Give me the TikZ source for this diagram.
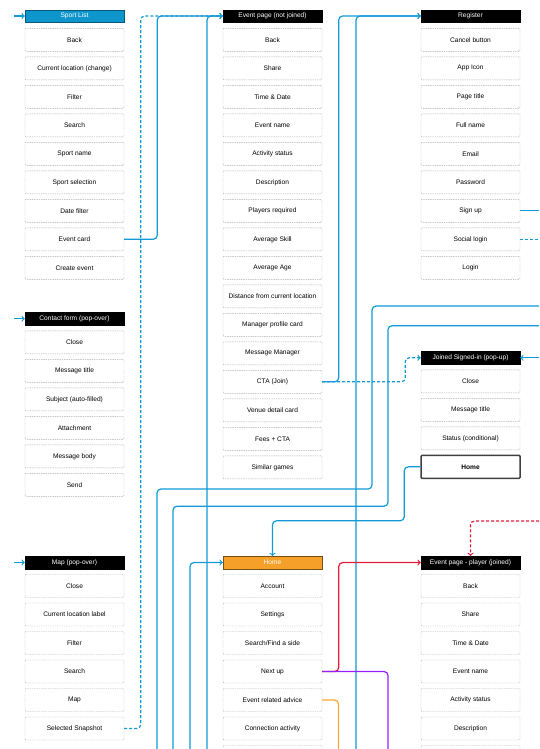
\documentclass[tikz,border=0pt]{standalone}
\usepackage{fontspec}
\setmainfont{Liberation Sans}
\usetikzlibrary{calc,positioning,arrows}
\definecolor{linkblue}{RGB}{17,154,214}
\definecolor{headblue}{RGB}{14,150,204}
\definecolor{linkred}{RGB}{228,28,58}
\definecolor{linkviolet}{RGB}{150,30,255}
\definecolor{linkorange}{RGB}{255,168,50}
\definecolor{homeorange}{RGB}{245,160,40}

\begin{document}
\begin{tikzpicture}[x=1pt,y=-1pt,
    box/.style={draw=gray!65,dash pattern=on 1.4pt off .9pt,line width=.45pt,rounded corners=1pt,fill=white,minimum width=99pt,minimum height=23pt,inner sep=0pt,font=\fontsize{6.6}{8}\selectfont},
    hdr/.style={draw=black,fill=black,text=white,minimum width=99pt,minimum height=12.5pt,inner sep=0pt,font=\fontsize{6.6}{8}\selectfont},
    link/.style={draw=linkblue,line width=1.2pt,rounded corners=4pt},
    dsh/.style={dash pattern=on 3pt off 2pt}]
                      \useasboundingbox (0,0) rectangle (539,749);
                      \clip (0,0) rectangle (539,749);

                      \node[hdr,fill=headblue,draw=headblue!60!black] (s0) at (74.5,16) {Sport List};
                      \node[box] (s1) at (74.5,39.8) {Back};
                      \node[box] (s2) at (74.5,68.3) {Current location (change)};
                      \node[box] (s3) at (74.5,96.8) {Filter};
                      \node[box] (s4) at (74.5,125.3) {Search};
                      \node[box] (s5) at (74.5,153.8) {Sport name};
                      \node[box] (s6) at (74.5,182.3) {Sport selection};
                      \node[box] (s7) at (74.5,210.8) {Date filter};
                      \node[box] (s8) at (74.5,239.3) {Event card};
                      \node[box] (s9) at (74.5,267.8) {Create event};

                      \node[hdr] (c0) at (74.5,318.7) {Contact form (pop-over)};
                      \node[box] (c1) at (74.5,342.3) {Close};
                      \node[box] (c2) at (74.5,370.8) {Message title};
                      \node[box] (c3) at (74.5,399.3) {Subject (auto-filled)};
                      \node[box] (c4) at (74.5,427.8) {Attachment};
                      \node[box] (c5) at (74.5,456.3) {Message body};
                      \node[box] (c6) at (74.5,484.8) {Send};

                      \node[hdr] (m0) at (74.5,562.5) {Map (pop-over)};
                      \node[box] (m1) at (74.5,586) {Close};
                      \node[box] (m2) at (74.5,614.5) {Current location label};
                      \node[box] (m3) at (74.5,643) {Filter};
                      \node[box] (m4) at (74.5,671.5) {Search};
                      \node[box] (m5) at (74.5,700) {Map};
                      \node[box] (m6) at (74.5,728.5) {Selected Snapshot};

                      \node[hdr] (e0) at (272.5,16) {Event page (not joined)};
                      \node[box] (e1) at (272.5,39.8) {Back};
                      \node[box] (e2) at (272.5,68.3) {Share};
                      \node[box] (e3) at (272.5,96.8) {Time \& Date};
                      \node[box] (e4) at (272.5,125.3) {Event name};
                      \node[box] (e5) at (272.5,153.8) {Activity status};
                      \node[box] (e6) at (272.5,182.3) {Description};
                      \node[box] (e7) at (272.5,210.8) {Players required};
                      \node[box] (e8) at (272.5,239.3) {Average Skill};
                      \node[box] (e9) at (272.5,267.8) {Average Age};
                      \node[box] (e10) at (272.5,296.3) {Distance from current location};
                      \node[box] (e11) at (272.5,324.8) {Manager profile card};
                      \node[box] (e12) at (272.5,353.3) {Message Manager};
                      \node[box] (e13) at (272.5,381.8) {CTA (Join)};
                      \node[box] (e14) at (272.5,410.3) {Venue detail card};
                      \node[box] (e15) at (272.5,438.8) {Fees + CTA};
                      \node[box] (e16) at (272.5,467.3) {Similar games};

                      \node[hdr,fill=homeorange,draw=homeorange!50!black] (h0) at (272.5,562.5) {Home};
                      \node[box] (h1) at (272.5,586) {Account};
                      \node[box] (h2) at (272.5,614.5) {Settings};
                      \node[box] (h3) at (272.5,643) {Search/Find a side};
                      \node[box] (h4) at (272.5,671.5) {Next up};
                      \node[box] (h5) at (272.5,700) {Event related advice};
                      \node[box] (h6) at (272.5,728.5) {Connection activity};
                      \node[box] (h7) at (272.5,757) {};

                      \node[hdr] (r0) at (470.5,16) {Register};
                      \node[box] (r1) at (470.5,39.8) {Cancel button};
                      \node[box] (r2) at (470.5,68.3) {App Icon};
                      \node[box] (r3) at (470.5,96.8) {Page title};
                      \node[box] (r4) at (470.5,125.3) {Full name};
                      \node[box] (r5) at (470.5,153.8) {Email};
                      \node[box] (r6) at (470.5,182.3) {Password};
                      \node[box] (r7) at (470.5,210.8) {Sign up};
                      \node[box] (r8) at (470.5,239.3) {Social login};
                      \node[box] (r9) at (470.5,267.8) {Login};

                      \node[hdr] (j0) at (470.5,357.8) {Joined Signed-in (pop-up)};
                      \node[box] (j1) at (470.5,381.3) {Close};
                      \node[box] (j2) at (470.5,409.8) {Message title};
                      \node[box] (j3) at (470.5,438.3) {Status (conditional)};
                      \node[box,solid,draw=black!75,line width=1.5pt,font=\fontsize{6.6}{8}\selectfont\bfseries] (j4) at (470.5,466.8) {Home};

                      \node[hdr] (p0) at (470.5,562.5) {Event page - player (joined)};
                      \node[box] (p1) at (470.5,586) {Back};
                      \node[box] (p2) at (470.5,614.5) {Share};
                      \node[box] (p3) at (470.5,643) {Time \& Date};
                      \node[box] (p4) at (470.5,671.5) {Event name};
                      \node[box] (p5) at (470.5,700) {Activity status};
                      \node[box] (p6) at (470.5,728.5) {Description};
                      \node[box] (p7) at (470.5,757) {};

                      \coordinate (in1) at (14,16);
                      \coordinate (in2) at (14,318.7);
                      \coordinate (in3) at (14,562.5);
                      \coordinate (b1) at (157,749);
                      \coordinate (b2) at (173,749);
                      \coordinate (b3) at (190,749);
                      \coordinate (b4) at (207,749);
                      \coordinate (b5) at (338.5,749);
                      \coordinate (b6) at (356,749);
                      \coordinate (b7) at (388,749);
                      \coordinate (o1) at (539,210.8);
                      \coordinate (o2) at (539,239.3);
                      \coordinate (o3) at (539,306);
                      \coordinate (o4) at (539,325.7);
                      \coordinate (o5) at (539,357.8);
                      \coordinate (o6) at (539,521);

                      \draw[link,->] (in1) -- (s0);
                      \draw[link,->] (in2) -- (c0);
                      \draw[link,->] (in3) -- (m0);
                      \draw[link,dsh,->] (m6.east) -- ++(16.5,0) |- (e0.west);
                      \draw[link,->] (s8.east) -- ++(33,0) |- (e0.west);
                      \draw[link,->] (b4) |- (e0.west);
                      \draw[link,->] (b3) |- (h0.west);
                      \draw[link,->] (b6) |- (r0.west);
                      \draw[link,->] (e13.east) -- ++(16.5,0) |- (r0.west);
                      \draw[link,dsh,->] (e13.east) -- ++(83,0) |- (j0.west);
                      \draw[link] (o3) -- ++(-167,0) -- ++(0,183) -| (b1);
                      \draw[link] (o4) -- ++(-151,0) -- ++(0,180.5) -| (b2);
                      \draw[link,->] (j4.west) -- ++(-16,0) -- ++(0,54) -| (h0.north);
                      \draw[link] (r7.east) -- (o1);
                      \draw[link,dsh] (r8.east) -- (o2);
                      \draw[link,->] (o5) -- (j0.east);
                      \draw[link,draw=linkred,dsh,->] (o6) -| (p0.north);
                      \draw[link,draw=linkred,->] (h4.east) -- ++(16.5,0) |- (p0.west);
                      \draw[link,draw=linkviolet] (h4.east) -| (b7);
                      \draw[link,draw=linkorange] (h5.east) -| (b5);
                    \end{tikzpicture}
\end{document}
